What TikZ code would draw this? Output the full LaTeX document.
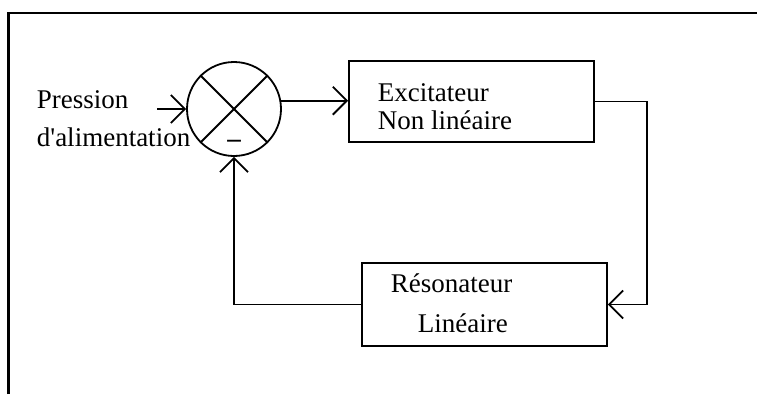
\documentclass[tikz,border=0pt]{standalone}
\usepackage{fontspec}
\setmainfont{Liberation Serif}[Ligatures=TeXOff]
\usetikzlibrary{arrows.meta}
\begin{document}
\begin{tikzpicture}[x=1pt,y=-1pt,
  line width=1.8pt,
  txt/.style={inner sep=0pt,anchor=base west,font=\fontsize{27pt}{28pt}\selectfont},
  blockbox/.style={draw,rectangle,minimum width=245pt,inner sep=0pt},
  arr/.style={-{Straight Barb[length=14pt,width=28pt,line width=1.8pt]}}
]
\useasboundingbox (0,0) rectangle (757,394);
% frame
\draw[line width=2.2pt] (8.5,394) -- (8.5,13) -- (757,13);
% summing junction
\node[draw,circle,minimum size=94pt,inner sep=0pt] (sum) at (234,109) {};
\draw (sum.45) -- (sum.225);
\draw (sum.135) -- (sum.315);
\node[txt,anchor=base,font=\fontsize{27pt}{28pt}\selectfont\bfseries] (minus) at (234,147) {–};
% blocks
\node[blockbox,minimum height=81pt] (exc) at (471.5,101.5) {};
\node[blockbox,minimum height=83pt] (res) at (484.5,304.5) {};
% texts
\node[txt] (t1) at (36,108.5) {Pression};
\node[txt] (t2) at (36,146) {d'alimentation};
\node[txt] (t3) at (377,101) {Excitateur};
\node[txt] (t4) at (377,129) {Non linéaire};
\node[txt] (t5) at (390,292) {Résonateur};
\node[txt] (t6) at (417,332) {Linéaire};
% connectors
\coordinate (in) at (157,109);
\coordinate (corner) at (647,101.5);
\draw[arr] (in) -- (sum.west);
\draw[arr] (sum.10) -- (sum.10 -| exc.west);
\draw[arr] (exc.east) -- (corner) |- (res.east);
\draw[arr] (res.west) -| (sum.south);
\end{tikzpicture}
\end{document}
